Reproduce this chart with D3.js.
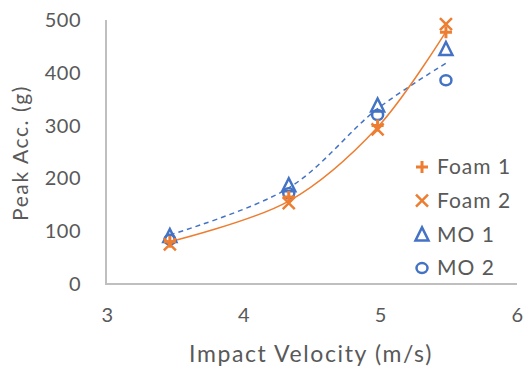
<!DOCTYPE html>
<html><head><meta charset="utf-8">
<script src="https://cdn.jsdelivr.net/npm/d3@7"></script>
<style>body{margin:0;background:#fff;} text{font-family:Lato,"Open Sans",sans-serif;fill:#595959;}</style>
</head><body>
<svg id="c" width="523" height="369"></svg>
<script>
const velocity = [3.46, 4.33, 4.98, 5.48];
const foam1 = [80, 165, 300, 477];
const foam2 = [75, 153, 293, 492];
const mo1 = [91, 187, 338, 445];
const mo2 = [84, 172, 320, 386];
const trendFoam = [80, 157, 297, 478];
const trendMO = [93, 182, 332, 418];
const xTicks = [3, 4, 5, 6];
const yTicks = [0, 100, 200, 300, 400, 500];
const seriesNames = ["Foam 1", "Foam 2", "MO 1", "MO 2"];

const orange = "#ED7D31", blue = "#4472C4";
const svg = d3.select("#c");
const x = d3.scaleLinear().domain([3, 6]).range([107, 517]);
const y = d3.scaleLinear().domain([0, 500]).range([284, 20]);

// axes
const xAxis = svg.append("g").attr("transform", "translate(0,284)")
  .call(d3.axisBottom(x).tickValues(xTicks).tickSize(0).tickPadding(24).tickFormat(d3.format("d")));
xAxis.select(".domain").attr("stroke", "#BFBFBF").attr("stroke-width", 2).attr("d", "M106,0H517");
xAxis.selectAll("text").style("font-size", "20px").style("letter-spacing", "0.5px").attr("fill", "#595959");

const yAxis = svg.append("g").attr("transform", "translate(106,0)")
  .call(d3.axisLeft(y).tickValues(yTicks).tickSize(0).tickPadding(25).tickFormat(d3.format("d")));
yAxis.select(".domain").attr("stroke", "#BFBFBF").attr("stroke-width", 2).attr("d", "M0,20V285");
yAxis.selectAll("text").style("font-size", "20px").style("letter-spacing", "0.5px").attr("fill", "#595959");

svg.append("text").attr("x", 311).attr("y", 362).attr("text-anchor", "middle")
  .style("font-size", "23px").style("letter-spacing", "1.6px").text("Impact Velocity (m/s)");
svg.append("text").attr("transform", "translate(28,153) rotate(-90)").attr("text-anchor", "middle")
  .style("font-size", "21px").style("letter-spacing", "1.6px").text("Peak Acc. (g)");

// trend lines
const line = d3.line().x((d, i) => x(velocity[i])).y(d => y(d)).curve(d3.curveCatmullRom.alpha(0.5));
svg.append("path").attr("d", line(trendMO)).attr("fill", "none").attr("stroke", blue)
  .attr("stroke-width", 1.5).attr("stroke-dasharray", "5,4");
svg.append("path").attr("d", line(trendFoam)).attr("fill", "none").attr("stroke", orange)
  .attr("stroke-width", 1.5);

// markers
function marker(g, type, cx, cy) {
  const s = 6;
  if (type === 0) {
    g.append("path").attr("d", `M${cx-s},${cy}H${cx+s}M${cx},${cy-s}V${cy+s}`)
      .attr("stroke", orange).attr("stroke-width", 3).attr("fill", "none");
  } else if (type === 1) {
    g.append("path").attr("d", `M${cx-s},${cy-s}L${cx+s},${cy+s}M${cx-s},${cy+s}L${cx+s},${cy-s}`)
      .attr("stroke", orange).attr("stroke-width", 2.5).attr("fill", "none");
  } else if (type === 2) {
    g.append("path").attr("d", `M${cx},${cy-7}L${cx+6.5},${cy+6}L${cx-6.5},${cy+6}Z`)
      .attr("stroke", blue).attr("stroke-width", 2.5).attr("fill", "none");
  } else {
    g.append("ellipse").attr("cx", cx).attr("cy", cy).attr("rx", 5.5).attr("ry", 5)
      .attr("stroke", blue).attr("stroke-width", 2.5).attr("fill", "none");
  }
}
const allSeries = [foam1, foam2, mo1, mo2];
const order = [3, 2, 1, 0];
order.forEach(k => {
  const g = svg.append("g");
  allSeries[k].forEach((v, i) => marker(g, k, x(velocity[i]), y(v)));
});

// legend
const leg = svg.append("g");
seriesNames.forEach((name, k) => {
  const cy = 167 + k * 33.7;
  marker(leg, k, 422, cy);
  leg.append("text").attr("x", 437).attr("y", cy).attr("dy", "0.35em")
    .style("font-size", "21px").style("letter-spacing", "1px").text(name);
});
</script>
</body></html>
